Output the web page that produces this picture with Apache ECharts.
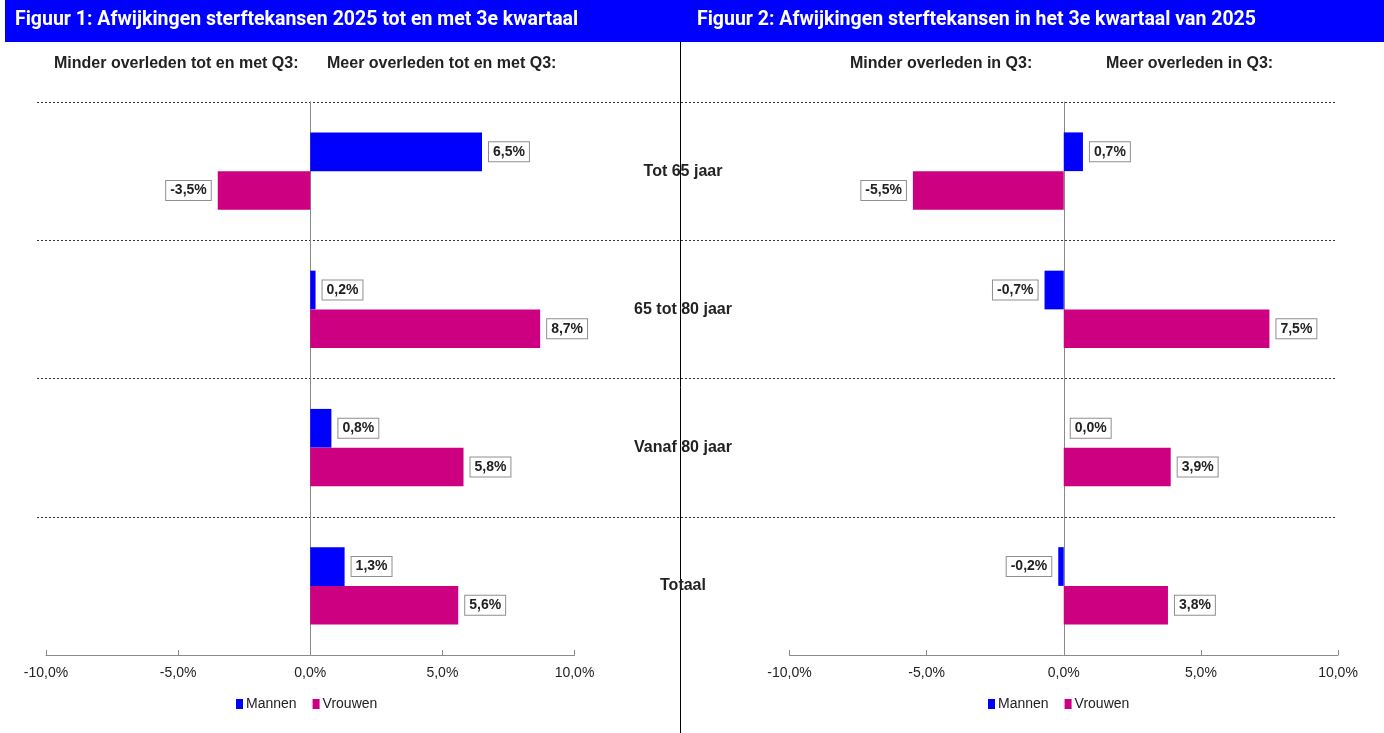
<!DOCTYPE html>
<html>
<head>
<meta charset="utf-8">
<script src="https://cdn.jsdelivr.net/npm/echarts@6/dist/echarts.min.js"></script>
<style>
  html, body { margin: 0; padding: 0; background: #fff; }
  #chart { width: 1384px; height: 733px; }
</style>
</head>
<body>
<div id="chart"></div>
<script>
// data
const categories = ['Tot 65 jaar', '65 tot 80 jaar', 'Vanaf 80 jaar', 'Totaal'];
const seriesNames = ['Mannen', 'Vrouwen'];
// Figuur 1: tot en met Q3
const mannenTotQ3 = [6.5, 0.2, 0.8, 1.3];
const vrouwenTotQ3 = [-3.5, 8.7, 5.8, 5.6];
// Figuur 2: in Q3
const mannenQ3 = [0.7, -0.7, 0.0, -0.2];
const vrouwenQ3 = [-5.5, 7.5, 3.9, 3.8];
const tickMin = -10, tickMax = 10, tickStep = 5;

const colors = { Mannen: '#0000FF', Vrouwen: '#CC0080' };
const fontFam = '"Liberation Sans", Arial, sans-serif';
const fmt = v => v.toFixed(1).replace('.', ',') + '%';

const chart = echarts.init(document.getElementById('chart'));

function barData(values) {
  return values.map(v => ({
    value: v,
    label: { position: v < 0 ? 'left' : 'right' }
  }));
}

function barSeries(name, values, idx) {
  return {
    name: name,
    type: 'bar',
    xAxisIndex: idx,
    yAxisIndex: idx,
    data: barData(values),
    barGap: '0%',
    barCategoryGap: '44%',
    itemStyle: { color: colors[name] },
    label: {
      show: true,
      distance: 7,
      formatter: p => fmt(p.value),
      fontFamily: fontFam,
      fontWeight: 'bold',
      fontSize: 14,
      color: '#222',
      backgroundColor: '#fff',
      borderColor: '#8f8f8f',
      borderWidth: 1,
      padding: [3, 4, 2, 4]
    },
    emphasis: { disabled: true }
  };
}

function valueAxis(idx) {
  return {
    type: 'value',
    gridIndex: idx,
    min: tickMin,
    max: tickMax,
    interval: tickStep,
    axisLine: { show: true, lineStyle: { color: '#8a8a8a' } },
    axisTick: { show: true, inside: true, length: 5, lineStyle: { color: '#8a8a8a' } },
    axisLabel: {
      margin: 11,
      fontFamily: fontFam,
      fontSize: 14,
      color: '#222',
      formatter: v => fmt(v)
    },
    splitLine: { show: false }
  };
}

function catAxis(idx) {
  return {
    type: 'category',
    gridIndex: idx,
    inverse: true,
    data: categories,
    axisLine: { show: true, onZero: true, lineStyle: { color: '#8a8a8a' } },
    axisTick: { show: false },
    axisLabel: { show: false },
    splitLine: { show: false }
  };
}

function headerText(x, text) {
  return {
    type: 'text', left: x, top: 56,
    style: { text: text, fontFamily: fontFam, fontWeight: 'bold', fontSize: 16, fill: '#222' }
  };
}

function legendAt(x) {
  return {
    left: x, top: 697, padding: 0, itemGap: 16, itemWidth: 7, itemHeight: 10,
    icon: 'rect', data: seriesNames, selectedMode: false,
    textStyle: { fontFamily: fontFam, fontSize: 14, color: '#222', padding: [0, 0, 0, -2] }
  };
}

const option = {
  backgroundColor: '#fff',
  animation: false,
  grid: [
    { left: 46, width: 528.5, top: 102, height: 553, containLabel: false, outerBoundsMode: 'none' },
    { left: 789.5, width: 548.5, top: 102, height: 553, containLabel: false, outerBoundsMode: 'none' },
    { left: 37, width: 1298, top: 102, height: 553, containLabel: false, outerBoundsMode: 'none' }
  ],
  xAxis: [
    valueAxis(0),
    valueAxis(1),
    { type: 'value', gridIndex: 2, show: false, min: 0, max: 1 }
  ],
  yAxis: [
    catAxis(0),
    catAxis(1),
    {
      type: 'category',
      gridIndex: 2,
      inverse: true,
      data: categories,
      axisLine: { show: false },
      axisTick: { show: false },
      axisLabel: {
        margin: -646,
        align: 'center',
        fontFamily: fontFam,
        fontWeight: 'bold',
        fontSize: 16,
        color: '#222'
      },
      splitLine: {
        show: true,
        showMaxLine: false,
        lineStyle: { color: '#333', type: [2, 2], width: 1 }
      }
    }
  ],
  legend: [legendAt(236), legendAt(988)],
  graphic: [
    { type: 'rect', shape: { x: 5, y: 0, width: 1379, height: 42 }, style: { fill: '#0000FF' } },
    {
      type: 'text', left: 15, top: 10,
      style: { text: 'Figuur 1: Afwijkingen sterftekansen 2025 tot en met 3e kwartaal',
        fontFamily: 'Roboto, sans-serif', fontWeight: 'bold', fontSize: 19.5, fill: '#fff' }
    },
    {
      type: 'text', left: 697, top: 10,
      style: { text: 'Figuur 2: Afwijkingen sterftekansen in het 3e kwartaal van 2025',
        fontFamily: 'Roboto, sans-serif', fontWeight: 'bold', fontSize: 19.5, fill: '#fff' }
    },
    { type: 'line', shape: { x1: 680.5, y1: 42, x2: 680.5, y2: 733 }, style: { stroke: '#000', lineWidth: 1 } },
    headerText(54, 'Minder overleden tot en met Q3:'),
    headerText(327, 'Meer overleden tot en met Q3:'),
    headerText(850, 'Minder overleden in Q3:'),
    headerText(1106, 'Meer overleden in Q3:')
  ],
  series: [
    barSeries('Mannen', mannenTotQ3, 0),
    barSeries('Vrouwen', vrouwenTotQ3, 0),
    barSeries('Mannen', mannenQ3, 1),
    barSeries('Vrouwen', vrouwenQ3, 1)
  ]
};

chart.setOption(option);
</script>
</body>
</html>
